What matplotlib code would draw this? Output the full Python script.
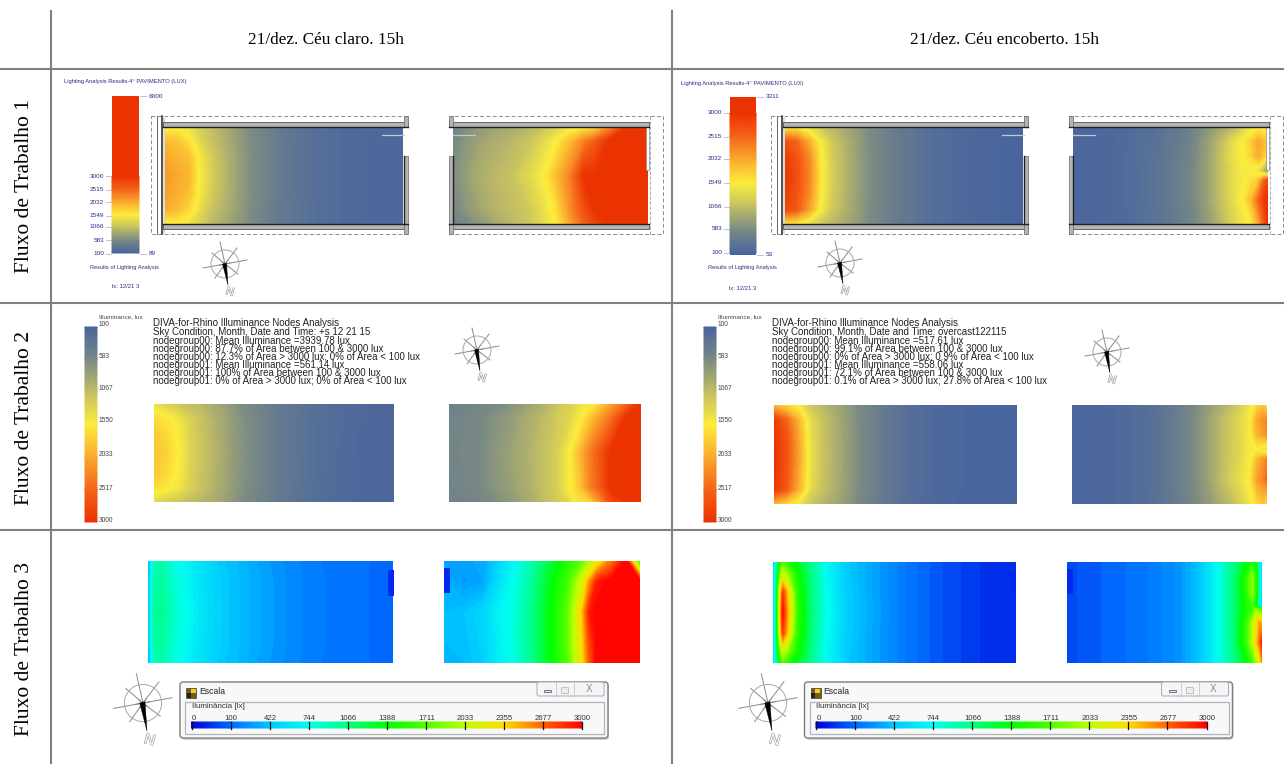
import numpy as np
import matplotlib
matplotlib.use("Agg")
import matplotlib.pyplot as plt
import matplotlib.patheffects as pe
from matplotlib.colors import LinearSegmentedColormap
from matplotlib.patches import Rectangle, FancyBboxPatch, Circle, Polygon

# ---------- text ----------
col_titles = ["21/dez. Céu claro. 15h", "21/dez. Céu encoberto. 15h"]
row_titles = ["Fluxo de Trabalho 1", "Fluxo de Trabalho 2", "Fluxo de Trabalho 3"]
diva_c1 = ["DIVA-for-Rhino Illuminance Nodes Analysis",
           "Sky Condition, Month, Date and Time: +s 12 21 15",
           "nodegroup00: Mean Illuminance =3939.78 lux",
           "nodegroup00: 87.7% of Area between 100 & 3000 lux",
           "nodegroup00: 12.3% of Area > 3000 lux; 0% of Area < 100 lux",
           "nodegroup01: Mean Illuminance =561.14 lux",
           "nodegroup01: 100% of Area between 100 & 3000 lux",
           "nodegroup01: 0% of Area > 3000 lux; 0% of Area < 100 lux"]
diva_c2 = ["DIVA-for-Rhino Illuminance Nodes Analysis",
           "Sky Condition, Month, Date and Time: overcast122115",
           "nodegroup00: Mean Illuminance =517.61 lux",
           "nodegroup00: 99.1% of Area between 100 & 3000 lux",
           "nodegroup00: 0% of Area > 3000 lux; 0.9% of Area < 100 lux",
           "nodegroup01: Mean Illuminance =558.06 lux",
           "nodegroup01: 72.1% of Area between 100 & 3000 lux",
           "nodegroup01: 0.1% of Area > 3000 lux; 27.8% of Area < 100 lux"]

# ---------- scales ----------
ticks_diva = [100, 583, 1067, 1550, 2033, 2517, 3000]
ticks_r1 = [100, 583, 1066, 1549, 2032, 2515, 3000]
ticks_rainbow = [0, 100, 422, 744, 1066, 1388, 1711, 2033, 2355, 2677, 3000]
diva_colors = ["#48649f", "#7a8a84", "#c3be64", "#fcee3c", "#faaa2d", "#f56419", "#eb3200"]
rainbow_colors = ["#0000dc", "#006eff", "#00c8ff", "#00fff0", "#00ff82", "#00ff00",
                  "#4cff00", "#beff00", "#ffdc00", "#ff6400", "#ff0000"]

# ---------- sample positions across a room (fraction of width / height) ----------
cols_a = [0, .05, .1, .15, .2, .27, .35, .45, .55, .65, .75, .87, 1]
cols_b = [0, .1, .2, .3, .4, .47, .53, .6, .67, .73, .8, .9, 1]
cols_d = [0, .15, .3, .45, .6, .7, .76, .82, .87, .91, .95, .98, 1]
cols_f = [0, .15, .3, .4, .5, .57, .63, .68, .73, .78, .84, .92, 1]
cols_i = [0, .02, .05, .1, .17, .25, .33, .45, .55, .65, .75, .87, 1]
cols_j = [0, .1, .2, .28, .35, .45, .55, .63, .7, .74, .78, .85, .93, 1]
cols_k = [0, .012, .025, .04, .06, .1, .15, .22, .3, .42, .55, .7, .85, 1]
cols_l = [0, .2, .4, .58, .68, .77, .86, .91, .95, .97, .99, 1]
rows_5 = [0, .15, .5, .85, 1]
rows_5b = [0, .2, .5, .8, 1]
rows_7 = [0, .15, .3, .45, .55, .75, 1]
rows_7b = [0, .12, .3, .5, .7, .88, 1]
rows_7c = [0, .15, .3, .5, .7, .85, 1]
rows_8 = [0, .15, .3, .43, .47, .6, .8, 1]

# ---------- illuminance read from each room ----------
r1c1_left = [[1500,1500,1400,1200,1050,850,620,430,310,240,190,160,150],
             [1900,1850,1650,1300,1100,880,630,440,310,240,190,160,150],
             [2050,1950,1850,1450,1180,910,640,440,310,240,190,160,150],
             [2150,2050,1950,1500,1200,920,640,440,310,240,190,160,150],
             [2100,2000,1850,1450,1170,910,640,440,310,240,190,160,150],
             [2000,1900,1700,1350,1100,880,630,430,300,230,190,160,150],
             [1500,1550,1400,1200,1000,820,600,420,300,230,190,160,150]]
r1c1_right = [[500,650,780,880,1000,1120,1250,1450,1550,1700,2200,3000,3000],
              [560,760,900,1000,1150,1350,1550,1900,2300,2600,3000,3000,3000],
              [620,850,1000,1100,1350,1550,1900,2300,3000,3000,3000,3000,3000],
              [540,760,950,1050,1200,1400,1650,2200,2700,3000,3000,3000,3000],
              [450,620,800,1000,1150,1350,1550,2050,2500,2800,3000,3000,3000]]
r1c2_left = [[1500,1550,1350,1150,1000,820,600,420,300,220,170,130,110],
             [2700,2500,2000,1500,1150,880,620,430,300,220,170,130,110],
             [2900,2650,2250,1580,1190,900,630,430,300,220,170,130,110],
             [2950,2700,2300,1600,1200,900,630,430,300,220,170,130,110],
             [2900,2650,2250,1580,1190,900,630,430,300,220,170,130,110],
             [2800,2600,2100,1500,1150,880,620,430,300,220,170,130,110],
             [1600,1550,1350,1150,1000,820,600,420,300,220,170,130,110]]
r1c2_right = [[130,150,200,280,450,700,850,1000,1200,1400,1500,1500,1450],
              [130,150,200,290,480,800,1050,1350,1550,1750,2050,1900,1500],
              [130,150,210,300,500,820,1100,1400,1550,1700,2000,1800,1400],
              [130,150,210,310,520,830,1100,1350,1500,1500,1400,900,600],
              [130,150,210,310,520,830,1100,1350,1500,1650,1800,2500,2800],
              [130,150,210,310,520,830,1100,1350,1550,1850,2500,2900,3000],
              [130,150,200,290,480,750,1000,1250,1450,1550,2000,2600,3000]]
r2c1_left = [[1400,1250,1150,1050,980,850,640,480,340,260,210,170,150],
             [1700,1600,1450,1250,1100,900,680,490,350,260,210,170,150],
             [1800,1700,1520,1270,1110,910,690,500,350,260,205,165,150],
             [1850,1750,1550,1280,1120,920,700,500,350,260,200,160,150],
             [1800,1700,1520,1270,1110,910,690,495,345,255,200,160,150],
             [1700,1600,1450,1250,1100,900,680,490,340,250,200,160,150],
             [1300,1200,1150,1050,980,850,640,470,330,240,190,160,150]]
r2c1_right = [[480,520,620,780,950,1150,1250,1400,1500,1700,2050,2500,3000],
              [500,560,720,880,1050,1200,1300,1500,1800,2100,2400,3000,3000],
              [520,560,780,920,1100,1250,1550,1900,2300,2600,3000,3000,3000],
              [500,560,750,900,1100,1250,1550,1800,2250,2550,3000,3000,3000],
              [480,520,680,850,1050,1200,1350,1650,1700,2100,2700,3000,3000]]
r2c2_left = [[1900,1700,1500,1150,1000,820,580,380,240,170,130,110,100],
             [2900,2500,1950,1350,1100,850,590,380,240,170,130,110,100],
             [2950,2650,2050,1390,1110,855,595,380,240,170,130,110,100],
             [3000,2700,2100,1400,1120,860,600,380,240,170,130,110,100],
             [2980,2650,2050,1390,1110,855,595,380,240,170,130,110,100],
             [2950,2600,2000,1350,1100,850,590,380,240,170,130,110,100],
             [1900,1700,1450,1150,980,800,560,360,230,160,120,100,100]]
r2c2_right = [[130,150,190,280,500,750,900,1050,1250,1450,1700,1800,1500],
              [130,150,190,290,520,800,1000,1200,1350,1500,2050,2200,2300],
              [130,150,190,290,520,800,1000,1200,1350,1500,1950,2100,2200],
              [130,150,190,290,520,800,1000,1200,1300,1500,1550,1400,1250],
              [130,150,190,290,520,800,1000,1200,1350,1500,1900,2150,2300],
              [130,150,190,290,520,800,1020,1250,1400,1550,2100,2300,2500],
              [130,150,190,280,500,720,900,1050,1250,1450,1700,1800,1600]]
r3c1_left = [[300,850,950,800,660,500,410,300,220,160,125,105,95],
             [300,900,1000,850,680,520,420,310,230,170,130,105,95],
             [300,950,1050,880,700,530,420,310,230,170,130,105,95],
             [300,900,1000,850,680,520,420,310,230,170,130,105,95],
             [300,850,950,800,660,500,410,300,220,160,125,105,95]]
r3c1_right = [[300,280,320,500,680,950,1250,1500,1750,1950,2200,2600,3000,1500],
              [350,250,300,560,740,1000,1350,1650,2100,2500,2900,3000,3000,3000],
              [380,420,500,680,780,1050,1400,1750,2350,2900,3000,3000,3000,3000],
              [380,400,480,660,780,1050,1400,1750,2300,2750,3000,3000,3000,3000],
              [350,380,460,640,760,1020,1380,1700,2250,2700,3000,3000,3000,3000]]
r3c2_left = [[400,800,1300,1700,1500,1300,1050,720,450,280,130,75,50,40],
             [400,900,1600,2100,1900,1450,1100,720,450,280,130,75,50,40],
             [400,950,2000,2800,2400,1550,1120,740,460,280,130,75,50,40],
             [400,950,2100,2950,2500,1600,1150,760,470,290,130,75,50,40],
             [400,950,2000,2800,2400,1550,1120,740,460,280,130,75,50,40],
             [400,900,1600,2100,1900,1450,1100,720,450,280,130,75,50,40],
             [400,800,1300,1700,1500,1300,1050,720,450,280,130,75,50,40]]
r3c2_right = [[70,90,130,240,420,720,1050,1300,1500,1300,700,300],
              [70,90,130,240,420,720,1100,1450,1900,1500,700,300],
              [70,90,130,240,420,720,1100,1450,1900,1500,700,300],
              [70,90,130,240,420,720,1100,1400,1650,1300,600,300],
              [70,90,130,240,420,720,1100,1400,1650,1900,1700,1600],
              [70,90,130,240,420,720,1100,1500,1950,2300,2500,2400],
              [70,90,130,240,420,720,1100,1500,2000,2350,2700,2900],
              [70,90,130,240,420,720,1050,1300,1600,1900,2200,2500]]

# ---------- figure on pixel coordinates ----------
SERIF = "Liberation Serif"
SANS = "Liberation Sans"
NAVY = "#2b2b86"
fig = plt.figure(figsize=(12.84, 7.64), dpi=100, facecolor="white")
ax = fig.add_axes([0, 0, 1, 1])
ax.set_xlim(0, 1284)
ax.set_ylim(764, 0)
ax.axis("off")

cm_diva = LinearSegmentedColormap.from_list("diva", diva_colors)
cm_rain = LinearSegmentedColormap.from_list("rain", rainbow_colors)


def room(box, cols, rows, grid, cmap, rainbow=False):
    x0, x1, y0, y1 = box
    g = np.array(grid, float)
    if rainbow:
        g = np.interp(g, ticks_rainbow, np.linspace(0, 1, len(ticks_rainbow)))
        levels = np.linspace(0, 1, 81)
    else:
        levels = np.linspace(100, 3000, 121)
    X, Y = np.meshgrid(x0 + np.array(cols) * (x1 - x0), y0 + np.array(rows) * (y1 - y0))
    ax.contourf(X, Y, g, levels=levels, cmap=cmap, extend="both", antialiased=False, zorder=2)


def vbar(x0, x1, y_lo, y_hi, v_lo, v_hi, ticks):
    """vertical DIVA gradient: value v_lo at y_lo, v_hi at y_hi"""
    t = np.array(ticks, float)
    t = t[(t >= v_lo) & (t <= v_hi)]
    v = np.r_[v_lo, t, v_hi]
    y = y_lo + (v - v_lo) * (y_hi - y_lo) / (v_hi - v_lo)
    X, Y = np.meshgrid([x0, x1], y)
    ax.pcolormesh(X, Y, np.c_[v, v], cmap=cm_diva, vmin=100, vmax=3000, shading="gouraud", zorder=2)


def compass(cx, cy, s=1.0):
    c = "#8a8a8a"
    tips = [(-5, -22), (22, -4), (-22, 4), (12, -16), (13, 10), (-13, -11), (-10, 14)]
    for dx, dy in tips:
        ax.plot([cx - dx * s * .25, cx + dx * s], [cy - dy * s * .25, cy + dy * s],
                color=c, lw=.7, zorder=4)
    ax.add_patch(Circle((cx, cy), 14 * s, fill=False, ec="#a8a8a8", lw=.7, zorder=4))
    ax.add_patch(Polygon([(cx - 2.5 * s, cy + 0 * s), (cx + 1.5 * s, cy - 1 * s), (cx + 3 * s, cy + 21 * s)],
                         fc="black", ec="black", lw=.3, zorder=5))
    ax.text(cx + 5 * s, cy + 28 * s, "N", color="white", fontsize=8 * s, family=SANS, rotation=-15,
            ha="center", va="center", zorder=5,
            path_effects=[pe.withStroke(linewidth=.9, foreground="#999999")])


def plan(dx):
    gray = "#b4b4b4"
    ink = "#222222"
    ax.add_patch(Rectangle((151 + dx, 116), 512, 118, fill=False, ec="#8c8c8c", lw=.7, ls=(0, (4, 2.5)), zorder=1))
    ax.add_patch(Rectangle((408 + dx, 112), 41, 125, fc="white", ec="none", zorder=1.5))
    for a, b in [(163, 408), (449, 649)]:
        ax.add_patch(Rectangle((a + dx, 122), b - a, 4.5, fc=gray, ec="#555555", lw=.6, zorder=3))
        ax.plot([a + dx, b + dx], [126.7, 126.7], color=ink, lw=1, zorder=3.5)
        ax.add_patch(Rectangle((a + dx, 224.3), b - a, 4.5, fc=gray, ec="#555555", lw=.6, zorder=3))
        ax.plot([a + dx, b + dx], [224.3, 224.3], color=ink, lw=1, zorder=3.5)
    for a in (404, 449):
        ax.add_patch(Rectangle((a + dx, 116), 4, 11, fc=gray, ec="#666666", lw=.5, zorder=3))
        ax.add_patch(Rectangle((a + dx, 156), 4, 68, fc=gray, ec="#666666", lw=.5, zorder=3))
        ax.add_patch(Rectangle((a + dx, 224), 4, 10, fc=gray, ec="#666666", lw=.5, zorder=3))
    ax.plot([404 + dx, 404 + dx], [156, 224], color=ink, lw=1, zorder=3.5)
    ax.plot([453 + dx, 453 + dx], [156, 224], color=ink, lw=1, zorder=3.5)
    ax.add_patch(Rectangle((403 + dx, 127), 50, 29, fc="white", ec="none", zorder=2.5))
    ax.plot([382 + dx, 404 + dx], [135, 135], color="#c8c8c8", lw=.9, zorder=3)
    ax.plot([453 + dx, 475 + dx], [135, 135], color="#c8c8c8", lw=.9, zorder=3)
    ax.plot([157 + dx, 157 + dx], [116, 234], color="#666666", lw=.7, zorder=3)
    ax.plot([162 + dx, 162 + dx], [116, 234], color="#222222", lw=1.1, zorder=3)
    ax.add_patch(Rectangle((162.5 + dx, 116), 2.5, 118, fc="#dddddd", ec="none", zorder=2.8))
    ax.add_patch(Rectangle((646 + dx, 127), 2.5, 43, fc="white", ec="#888888", lw=.5, zorder=3))
    ax.plot([650 + dx, 650 + dx], [116, 234], color="#9a9a9a", lw=.6, ls=(0, (4, 2)), zorder=3)


def win(dx):
    ax.add_patch(FancyBboxPatch((182 + dx, 684), 427, 56, boxstyle="round,pad=0,rounding_size=3",
                                fc="#9a9a9a", ec="none", alpha=.45, zorder=3))
    ax.add_patch(FancyBboxPatch((180 + dx, 682), 428, 56, boxstyle="round,pad=0,rounding_size=3",
                                fc="#f7f8fa", ec="#7d7d7d", lw=1, zorder=3.2))
    ax.add_patch(FancyBboxPatch((537 + dx, 682), 67, 14, boxstyle="round,pad=0,rounding_size=2",
                                fc="#f4f5f7", ec="#a6acb4", lw=.7, zorder=3.3))
    ax.plot([574 + dx, 574 + dx], [682, 696], color="#c4c8cc", lw=.6, zorder=3.4)
    ax.plot([556 + dx, 556 + dx], [682, 696], color="#c4c8cc", lw=.6, zorder=3.4)
    ax.add_patch(Rectangle((544 + dx, 690), 7, 2.2, fc="#dfe2e6", ec="#666666", lw=.6, zorder=3.5))
    ax.add_patch(Rectangle((561 + dx, 687), 7, 6, fc="#eceef0", ec="#bbbbbb", lw=.6, zorder=3.5))
    ax.text(589 + dx, 689, "X", fontsize=7, color="#8a8a8a", family=SANS, ha="center", va="center", zorder=3.5)
    ax.add_patch(Rectangle((186 + dx, 688), 10, 10, fc="#7a5a10", ec="#222222", lw=.4, zorder=3.5))
    ax.add_patch(Rectangle((190.5 + dx, 688.5), 5, 4.5, fc="#f4d020", ec="none", zorder=3.6))
    ax.add_patch(Rectangle((186.5 + dx, 693), 4, 4.5, fc="#222222", ec="none", zorder=3.6))
    ax.text(199 + dx, 692, "Escala", fontsize=6.2, family=SANS, color="#222222", va="center", zorder=3.6)
    ax.add_patch(Rectangle((185 + dx, 702), 419, 32, fc="#f7f8fa", ec="#b4b4b4", lw=.9, zorder=3.4))
    ax.text(191.5 + dx, 707, "Iluminância [lx]", fontsize=5.8, family=SANS, color="#333333", va="center",
            zorder=3.6, bbox=dict(fc="#f7f8fa", ec="none", pad=.5))
    xs = 191.5 + np.arange(len(ticks_rainbow)) * 39.05
    X, Y = np.meshgrid(xs + dx, [722, 728])
    pos = np.linspace(0, 1, len(ticks_rainbow))
    ax.pcolormesh(X, Y, np.vstack([pos, pos]), cmap=cm_rain, vmin=0, vmax=1, shading="gouraud", zorder=3.6)
    for x, t in zip(xs, ticks_rainbow):
        ax.plot([x + dx, x + dx], [721.5, 728.5], color="#111111", lw=.9, zorder=3.7)
        ax.text(x + dx + .5, 718, str(t), fontsize=5.6, family=SANS, color="#333333", ha="left" if t == 0 else "center",
                va="center", zorder=3.7)


# ---------- table rules ----------
LINE = "#808080"
ax.plot([0, 1284], [69, 69], color=LINE, lw=1.5, zorder=6)
ax.plot([0, 1284], [303, 303], color=LINE, lw=1.5, zorder=6)
ax.plot([0, 1284], [530, 530], color=LINE, lw=1.5, zorder=6)
ax.plot([51, 51], [11, 764], color=LINE, lw=1.5, zorder=6)
ax.plot([672, 672], [11, 764], color=LINE, lw=1.5, zorder=6)

ax.text(326, 40, col_titles[0], family=SERIF, fontsize=12.4, ha="center", va="center")
ax.text(1005, 40, col_titles[1], family=SERIF, fontsize=12.4, ha="center", va="center")
for yc, t in zip((186, 418, 649), row_titles):
    ax.text(25, yc, t, family=SERIF, fontsize=15.5, rotation=90, ha="center", va="center")

# ---------- row 1 ----------
for dx in (0, 620):
    plan(dx)
room((165, 403, 127, 224), cols_a, rows_7c, r1c1_left, cm_diva)
room((453, 648, 127, 224), cols_b, rows_5, r1c1_right, cm_diva)
room((785, 1023, 127, 224), cols_a, rows_7c, r1c2_left, cm_diva)
room((1073, 1268, 127, 224), cols_d, rows_7, r1c2_right, cm_diva)

vbar(112, 139, 253, 176.5, 100, 3000, ticks_r1)
ax.add_patch(Rectangle((112, 96), 27, 80.5, fc=diva_colors[-1], ec="none", zorder=2))
vbar(730, 756, 253, 113, 100, 3000, ticks_r1)
ax.add_patch(Rectangle((730, 97), 26, 16, fc=diva_colors[-1], ec="none", zorder=2))
ax.add_patch(Rectangle((730, 253), 26, 2, fc=diva_colors[0], ec="none", zorder=2))


def r1_labels(ylist, bar0, bar1, top, bot, ttop, tbot, title_x, foot_x, ix_x, title_y, foot_y, ix_y):
    for y, t in zip(ylist, ticks_r1):
        ax.plot([bar0 - 6, bar0 - 1], [y, y], color="#aaaaaa", lw=.5)
        ax.text(bar0 - 8, y, str(t), fontsize=4.6, color=NAVY, family=SANS, ha="right", va="center")
    ax.plot([bar1 + 1, bar1 + 7], [top, top], color="#aaaaaa", lw=.5)
    ax.plot([bar1 + 1, bar1 + 7], [bot, bot], color="#aaaaaa", lw=.5)
    ax.text(bar1 + 9.5, top, ttop, fontsize=4.6, color=NAVY, family=SANS, va="center")
    ax.text(bar1 + 9.5, bot, tbot, fontsize=4.6, color=NAVY, family=SANS, va="center")
    ax.text(title_x, title_y, "Lighting Analysis Results-4° PAVIMENTO (LUX)", fontsize=4.15, color=NAVY, family=SANS, va="center")
    ax.text(foot_x, foot_y, "Results of Lighting Analysis", fontsize=4.1, color=NAVY, family=SANS, va="center")
    ax.text(ix_x, ix_y, "lx: 12/21 3", fontsize=4.2, color=NAVY, family=SANS, va="center")


r1_labels([253.5, 240, 227, 215.5, 202, 189.7, 176], 112, 139, 96, 253.5, "6000", "89", 64, 90, 112, 82, 267, 287)
r1_labels([253, 229, 207, 183, 159, 137, 113], 730, 756, 97, 255, "3311", "53", 681, 708, 729, 83, 268, 288)

compass(225, 264, 1.0)
compass(840, 263, 1.0)

# ---------- row 2 ----------
room((154, 394, 404, 502), cols_a, rows_7c, r2c1_left, cm_diva)
room((449, 641, 404, 502), cols_f, rows_5, r2c1_right, cm_diva)
room((774, 1017, 405, 504), cols_a, rows_7c, r2c2_left, cm_diva)
room((1072, 1267, 405, 504), cols_d, rows_7, r2c2_right, cm_diva)

for x0 in (85, 704):
    vbar(x0, x0 + 12, 327, 522, 100, 3000, ticks_diva)
    for y, t in zip((325, 357, 389, 421, 455, 489, 521), ticks_diva):
        ax.text(x0 + 14, y, str(t), fontsize=4.8, color="#444444", family=SANS, va="center")
    ax.text(x0 + 14, 317, "Illuminance, lux", fontsize=4.6, color="#444444", family=SANS, va="center")

for x0, lines in ((153, diva_c1), (772.5, diva_c2)):
    for y, t in zip((323.5, 332, 340.5, 349, 357, 365, 373.5, 381.5), lines):
        ax.text(x0, y, t, family=SANS, fontsize=7.05, color="#222222", va="center")

compass(477, 350, 1.0)
compass(1107, 352, 1.0)

# ---------- row 3 ----------
room((148, 393, 561, 663), cols_i, rows_5b, r3c1_left, cm_rain, True)
room((444, 640, 561, 663), cols_j, rows_5b, r3c1_right, cm_rain, True)
room((773, 1016, 562, 663), cols_k, rows_7b, r3c2_left, cm_rain, True)
room((1067, 1262, 562, 663), cols_l, rows_8, r3c2_right, cm_rain, True)
for (x, y0, y1) in ((388, 570, 596), (444, 568, 593), (1010, 571, 594), (1067, 569, 594)):
    ax.add_patch(Rectangle((x, y0), 5.5, y1 - y0, fc="#0028f0", ec="none", zorder=2.5))

compass(143, 703, 1.33)
compass(768, 703, 1.33)
win(0)
win(624.5)

fig.savefig("out.png", dpi=100)
